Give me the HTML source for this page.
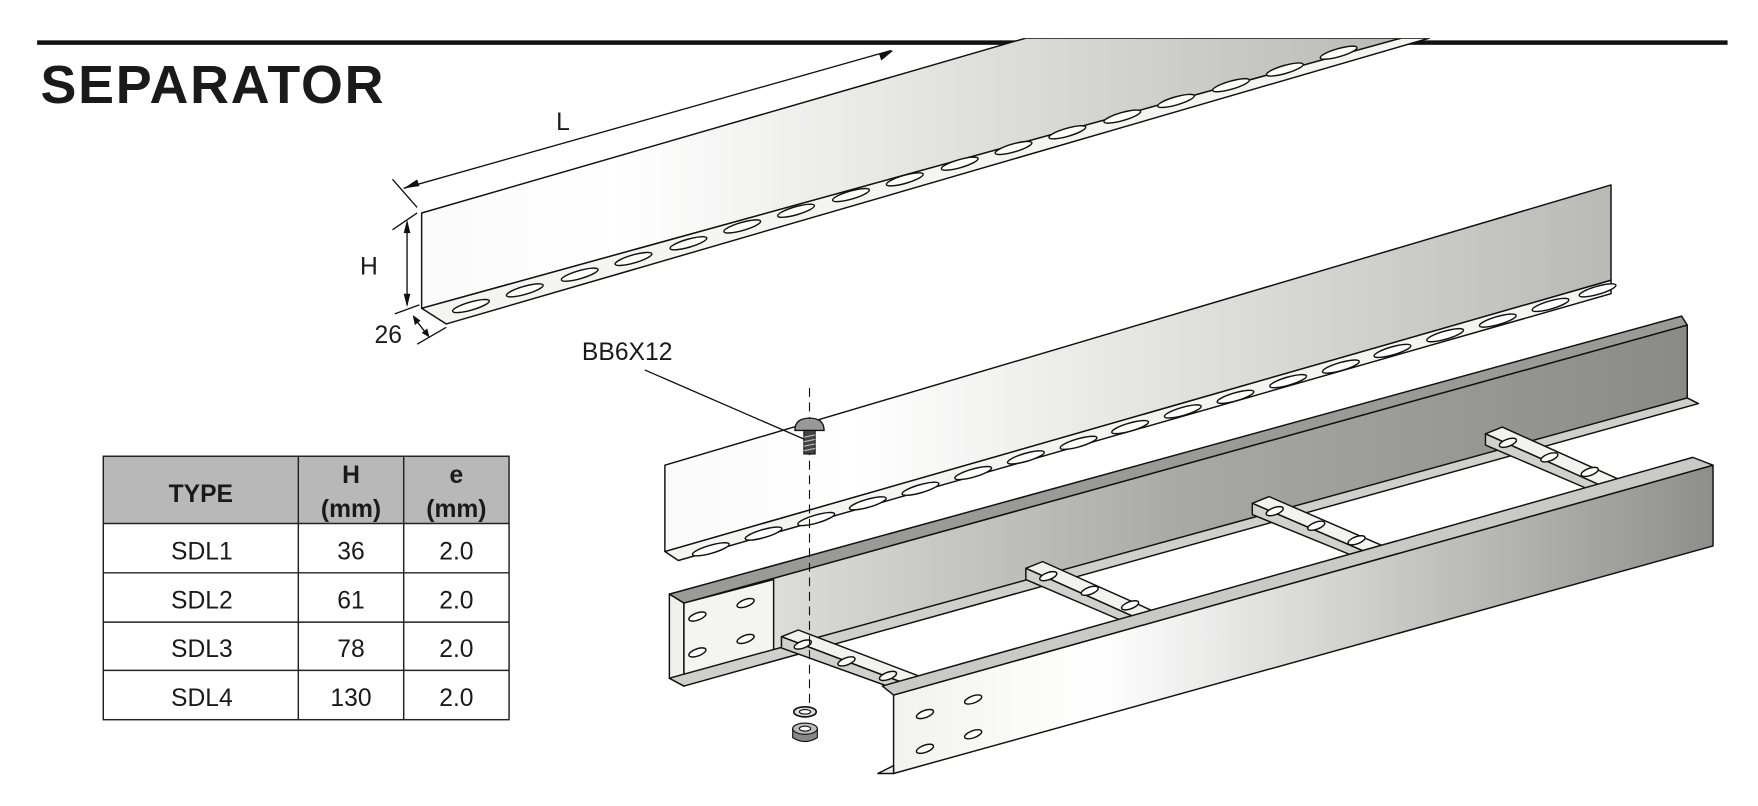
<!DOCTYPE html>
<html><head><meta charset="utf-8"><style>
html,body{margin:0;padding:0;background:#fff;}
svg{display:block;}
text{font-family:"Liberation Sans",Arial,sans-serif;fill:#1a1a1a;}
</style></head><body>
<svg width="1758" height="806" viewBox="0 0 1568 719" xmlns="http://www.w3.org/2000/svg">
<defs>
<linearGradient id="g1" x1="0" y1="0" x2="1" y2="0">
<stop offset="0" stop-color="#fafafa"/><stop offset="0.2" stop-color="#ffffff"/><stop offset="1" stop-color="#b9b9b6"/></linearGradient>
<linearGradient id="g2" x1="0" y1="0" x2="1" y2="0">
<stop offset="0" stop-color="#e8e8e6"/><stop offset="0.5" stop-color="#a8a8a6"/><stop offset="1" stop-color="#8a8a88"/></linearGradient>
<linearGradient id="g3" x1="0" y1="0" x2="1" y2="0">
<stop offset="0" stop-color="#f2f2f0"/><stop offset="0.25" stop-color="#ffffff"/><stop offset="1" stop-color="#8e8e8c"/></linearGradient>
<g id="s"><ellipse cx="0" cy="0" rx="17" ry="3.6" transform="rotate(-16)" fill="#fff" stroke="#111" stroke-width="1.3"/></g>
<g id="h"><ellipse cx="0" cy="0" rx="8" ry="3.2" transform="rotate(-20)" fill="#fff" stroke="#111" stroke-width="1.3"/></g>
</defs>
<rect x="33" y="36" width="1508" height="4" fill="#111"/>
<text x="36" y="92" font-size="48" font-weight="bold" textLength="306">SEPARATOR</text>

<!-- separator 1 -->
<g stroke="#111" stroke-width="1.3" stroke-linejoin="round">
<polygon points="376,190 915,34 1250,34 376,275" fill="url(#g1)"/>
<polygon points="376,275 1250,34 1275,34 398,289" fill="#f4f4f2"/>
</g>
<g>
<use href="#s" x="420" y="273"/><use href="#s" x="468" y="259"/><use href="#s" x="517" y="245"/><use href="#s" x="565" y="231"/><use href="#s" x="614" y="217"/><use href="#s" x="662" y="202"/><use href="#s" x="710" y="188"/><use href="#s" x="759" y="174"/><use href="#s" x="807" y="160"/><use href="#s" x="856" y="146"/><use href="#s" x="904" y="132"/><use href="#s" x="952" y="118"/><use href="#s" x="1001" y="104"/><use href="#s" x="1049" y="90"/><use href="#s" x="1098" y="76"/><use href="#s" x="1146" y="62"/><use href="#s" x="1194" y="47"/>
</g>
<rect x="870" y="30" width="420" height="4" fill="#fff"/>

<!-- dimensions -->
<g stroke="#111" stroke-width="1.2" fill="none">
<line x1="360" y1="168" x2="795" y2="45"/>
<line x1="350" y1="160" x2="372" y2="185"/>
<line x1="363" y1="198" x2="363" y2="272"/>
<line x1="350" y1="205" x2="372" y2="190"/>
<line x1="352" y1="280" x2="374" y2="272"/>
<line x1="369" y1="283" x2="382" y2="300"/>
<line x1="372" y1="307" x2="398" y2="292"/>
</g>
<g fill="#111">
<polygon points="360,168 372,160 374,166"/>
<polygon points="797,45 784,48 786,54"/>
<polygon points="363,196 360,208 366,208"/>
<polygon points="363,274 360,262 366,262"/>
<polygon points="368,281 370,290 375,286"/>
<polygon points="383,301 376,297 381,293"/>
</g>
<text x="496" y="116" font-size="22">L</text>
<text x="321" y="245" font-size="22">H</text>
<text x="334" y="306" font-size="22">26</text>

<!-- ladder back rail -->
<g stroke="#111" stroke-width="1.3" stroke-linejoin="round">
<polygon points="610,538 1505,290 1505,355 610,605" fill="url(#g2)"/>
<polygon points="597,530 1500,282 1505,290 610,538" fill="#9a9a98"/>
<polygon points="597,530 610,538 610,612 597,605" fill="#f0f0ee"/>
<polygon points="610,538 690,517 690,588 610,610" fill="#f4f4f2"/>
<polygon points="597,605 1505,355 1515,360 610,612" fill="#cfcfcd"/>
</g>
<use href="#h" x="622" y="550"/><use href="#h" x="665" y="538"/><use href="#h" x="622" y="582"/><use href="#h" x="665" y="570"/>

<!-- separator 2 -->
<g stroke="#111" stroke-width="1.3" stroke-linejoin="round">
<polygon points="593,415 1437,165 1437,250 593,492" fill="url(#g1)"/>
<polygon points="593,492 1437,250 1437,262 605,500" fill="#f4f4f2"/>
</g>
<g>
<use href="#s" x="634" y="490"/><use href="#s" x="681" y="476"/><use href="#s" x="728" y="463"/><use href="#s" x="774" y="449"/><use href="#s" x="821" y="436"/><use href="#s" x="868" y="422"/><use href="#s" x="915" y="408"/><use href="#s" x="962" y="395"/><use href="#s" x="1008" y="381"/><use href="#s" x="1055" y="367"/><use href="#s" x="1102" y="354"/><use href="#s" x="1149" y="340"/><use href="#s" x="1196" y="327"/><use href="#s" x="1242" y="313"/><use href="#s" x="1289" y="299"/><use href="#s" x="1336" y="286"/><use href="#s" x="1383" y="272"/><use href="#s" x="1425" y="259"/>
</g>

<!-- rungs -->
<g stroke="#111" stroke-width="1.3" stroke-linejoin="round">
<polygon points="697,568 712,562 822,604 808,610" fill="#f2f2f0"/>
<polygon points="697,568 808,610 808,618 697,578" fill="#d0d0ce"/>
<polygon points="915,507 930,501 1035,548 1020,554" fill="#f2f2f0"/>
<polygon points="915,507 1020,554 1020,562 915,517" fill="#d0d0ce"/>
<polygon points="1117,449 1132,443 1236,488 1222,494" fill="#f2f2f0"/>
<polygon points="1117,449 1222,494 1222,502 1117,459" fill="#d0d0ce"/>
<polygon points="1325,387 1340,381 1445,428 1430,434" fill="#f2f2f0"/>
<polygon points="1325,387 1430,434 1430,442 1325,397" fill="#d0d0ce"/>
</g>
<g>
<use href="#h" x="716" y="575"/><use href="#h" x="755" y="590"/><use href="#h" x="792" y="603"/>
<use href="#h" x="935" y="514"/><use href="#h" x="972" y="527"/><use href="#h" x="1008" y="540"/>
<use href="#h" x="1137" y="456"/><use href="#h" x="1174" y="469"/><use href="#h" x="1210" y="482"/>
<use href="#h" x="1345" y="395"/><use href="#h" x="1382" y="408"/><use href="#h" x="1418" y="421"/>
</g>

<!-- front rail -->
<g stroke="#111" stroke-width="1.3" stroke-linejoin="round">
<polygon points="797,620 1528,415 1528,487 797,690" fill="url(#g3)"/>
<polygon points="787,612 1510,408 1528,415 797,620" fill="#c9c9c7"/>
<polygon points="783,690 797,683 797,690" fill="#eee"/>
</g>
<use href="#h" x="825" y="637"/><use href="#h" x="868" y="624"/><use href="#h" x="825" y="668"/><use href="#h" x="868" y="655"/>

<!-- bolt etc -->
<line x1="722" y1="346" x2="722" y2="630" stroke="#111" stroke-width="1" stroke-dasharray="8,5"/>
<line x1="575" y1="330" x2="720" y2="393" stroke="#111" stroke-width="1.2"/>
<path d="M709,384 Q709,373 722,373 Q735,373 735,384 Z" fill="#999" stroke="#111" stroke-width="1.2"/>
<rect x="717" y="384" width="10" height="21" fill="#444" stroke="#111"/>
<g stroke="#bbb" stroke-width="1"><line x1="717" y1="390" x2="727" y2="388"/><line x1="717" y1="394" x2="727" y2="392"/><line x1="717" y1="398" x2="727" y2="396"/><line x1="717" y1="402" x2="727" y2="400"/></g>
<ellipse cx="718" cy="635" rx="10" ry="4.5" fill="#ddd" stroke="#111" stroke-width="1.5"/>
<ellipse cx="718" cy="635" rx="5" ry="2" fill="#fff" stroke="#111"/>
<path d="M707,650 L707,658 Q718,665 729,658 L729,650 Z" fill="#888" stroke="#111"/>
<ellipse cx="718" cy="650" rx="11" ry="5" fill="#bbb" stroke="#111"/>
<ellipse cx="718" cy="650" rx="5" ry="2.2" fill="#fff" stroke="#111"/>
<text x="519" y="321" font-size="22">BB6X12</text>

<!-- table -->
<rect x="92" y="407" width="362" height="60" fill="#b8b8b8"/>
<g stroke="#222" stroke-width="1.3" fill="none">
<rect x="92" y="407" width="362" height="235"/>
<line x1="92" y1="467" x2="454" y2="467"/><line x1="92" y1="511" x2="454" y2="511"/>
<line x1="92" y1="555" x2="454" y2="555"/><line x1="92" y1="598" x2="454" y2="598"/>
<line x1="266" y1="407" x2="266" y2="642"/><line x1="360" y1="407" x2="360" y2="642"/>
</g>
<g font-size="22" text-anchor="middle">
<text x="179" y="448" font-weight="bold">TYPE</text>
<text x="313" y="431" font-weight="bold">H</text><text x="313" y="461" font-weight="bold">(mm)</text>
<text x="407" y="431" font-weight="bold">e</text><text x="407" y="461" font-weight="bold">(mm)</text>
<text x="180" y="499">SDL1</text><text x="313" y="499">36</text><text x="407" y="499">2.0</text>
<text x="180" y="543">SDL2</text><text x="313" y="543">61</text><text x="407" y="543">2.0</text>
<text x="180" y="586">SDL3</text><text x="313" y="586">78</text><text x="407" y="586">2.0</text>
<text x="180" y="630">SDL4</text><text x="313" y="630">130</text><text x="407" y="630">2.0</text>
</g>
</svg>
</body></html>
